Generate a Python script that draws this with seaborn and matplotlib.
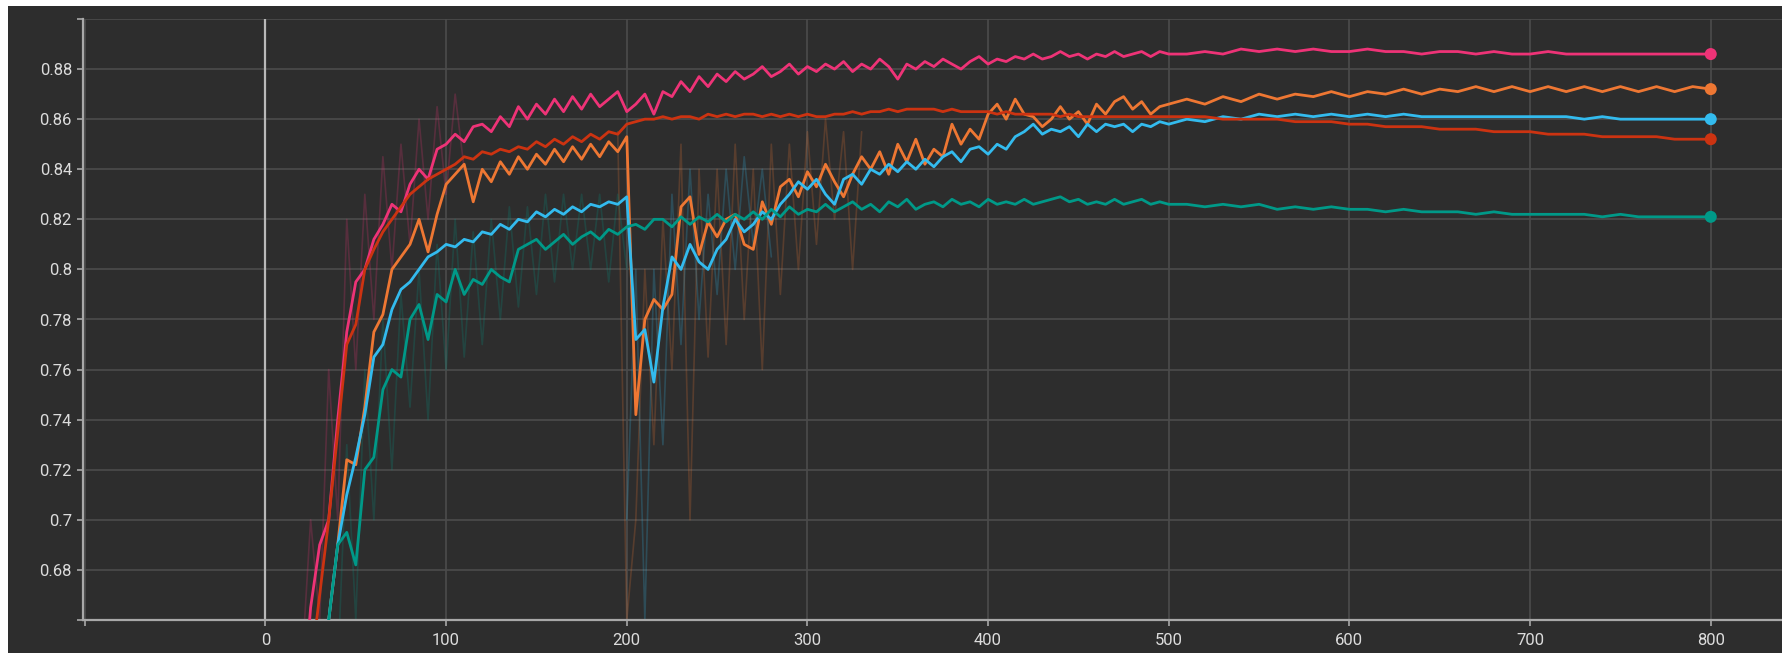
"""
Courbes d'entraînement façon TensorBoard (fond sombre, 5 runs)
"""

import numpy as np
import pandas as pd
import matplotlib
matplotlib.use("Agg")
import matplotlib.pyplot as plt
from matplotlib.patches import Rectangle
import seaborn as sns

# steps (abscisse commune à tous les runs lissés)
steps = list(range(20, 501, 5)) + list(range(510, 801, 10))

run_names = ["pink", "orange", "blue", "red", "teal"]
run_colors = ["#ee3377", "#ee7733", "#33bbee", "#cc3311", "#009988"]

pink = [
    0.620, 0.665, 0.690, 0.700, 0.740, 0.775, 0.795, 0.800, 0.812, 0.818,
    0.826, 0.823, 0.834, 0.840, 0.836, 0.848, 0.850, 0.854, 0.851, 0.857,
    0.858, 0.855, 0.861, 0.857, 0.865, 0.860, 0.866, 0.862, 0.868, 0.863,
    0.869, 0.864, 0.870, 0.865, 0.868, 0.871, 0.863, 0.866, 0.870, 0.862,
    0.871, 0.869, 0.875, 0.871, 0.877, 0.873, 0.878, 0.875, 0.879, 0.876,
    0.878, 0.881, 0.877, 0.879, 0.882, 0.878, 0.881, 0.879, 0.882, 0.880,
    0.883, 0.879, 0.882, 0.880, 0.884, 0.881, 0.876, 0.882, 0.880, 0.883,
    0.881, 0.884, 0.882, 0.880, 0.883, 0.885, 0.882, 0.884, 0.883, 0.885,
    0.884, 0.886, 0.884, 0.885, 0.887, 0.885, 0.886, 0.884, 0.886, 0.885,
    0.887, 0.885, 0.886, 0.887, 0.885, 0.887, 0.886,
    0.886, 0.887, 0.886, 0.888, 0.887, 0.888, 0.887, 0.888, 0.887, 0.887,
    0.888, 0.887, 0.887, 0.886, 0.887, 0.887, 0.886, 0.887, 0.886, 0.886,
    0.887, 0.886, 0.886, 0.886, 0.886, 0.886, 0.886, 0.886, 0.886, 0.886,
]

red = [
    0.600, 0.640, 0.670, 0.700, 0.735, 0.770, 0.778, 0.800, 0.808, 0.815,
    0.820, 0.825, 0.830, 0.833, 0.836, 0.838, 0.840, 0.842, 0.845, 0.844,
    0.847, 0.846, 0.848, 0.847, 0.849, 0.848, 0.851, 0.849, 0.852, 0.850,
    0.853, 0.851, 0.854, 0.852, 0.855, 0.854, 0.858, 0.859, 0.860, 0.860,
    0.861, 0.860, 0.861, 0.861, 0.860, 0.862, 0.861, 0.862, 0.861, 0.862,
    0.862, 0.861, 0.862, 0.861, 0.862, 0.861, 0.862, 0.861, 0.861, 0.862,
    0.862, 0.863, 0.862, 0.863, 0.863, 0.864, 0.863, 0.864, 0.864, 0.864,
    0.864, 0.863, 0.864, 0.863, 0.863, 0.863, 0.863, 0.862, 0.863, 0.862,
    0.862, 0.862, 0.862, 0.862, 0.861, 0.862, 0.861, 0.861, 0.861, 0.861,
    0.861, 0.861, 0.861, 0.861, 0.861, 0.861, 0.861,
    0.861, 0.861, 0.860, 0.860, 0.860, 0.860, 0.859, 0.859, 0.859, 0.858,
    0.858, 0.857, 0.857, 0.857, 0.856, 0.856, 0.856, 0.855, 0.855, 0.855,
    0.854, 0.854, 0.854, 0.853, 0.853, 0.853, 0.853, 0.852, 0.852, 0.852,
]

orange = [
    0.560, 0.590, 0.620, 0.660, 0.690, 0.724, 0.722, 0.745, 0.775, 0.782,
    0.800, 0.805, 0.810, 0.820, 0.807, 0.822, 0.834, 0.838, 0.842, 0.827,
    0.840, 0.835, 0.843, 0.838, 0.845, 0.840, 0.846, 0.842, 0.848, 0.843,
    0.849, 0.844, 0.850, 0.845, 0.851, 0.847, 0.853, 0.742, 0.780, 0.788,
    0.784, 0.790, 0.825, 0.829, 0.806, 0.819, 0.813, 0.820, 0.822, 0.810,
    0.808, 0.827, 0.818, 0.833, 0.836, 0.829, 0.839, 0.833, 0.842, 0.835,
    0.829, 0.838, 0.845, 0.840, 0.847, 0.838, 0.850, 0.843, 0.852, 0.842,
    0.848, 0.845, 0.858, 0.850, 0.856, 0.852, 0.862, 0.866, 0.860, 0.868,
    0.862, 0.861, 0.857, 0.860, 0.865, 0.860, 0.863, 0.858, 0.866, 0.862,
    0.867, 0.869, 0.864, 0.867, 0.862, 0.865, 0.866,
    0.868, 0.866, 0.869, 0.867, 0.870, 0.868, 0.870, 0.869, 0.871, 0.869,
    0.871, 0.870, 0.872, 0.870, 0.872, 0.871, 0.873, 0.871, 0.873, 0.871,
    0.873, 0.871, 0.873, 0.871, 0.873, 0.871, 0.873, 0.871, 0.873, 0.872,
]

blue = [
    0.550, 0.580, 0.620, 0.660, 0.690, 0.710, 0.725, 0.742, 0.765, 0.770,
    0.784, 0.792, 0.795, 0.800, 0.805, 0.807, 0.810, 0.809, 0.812, 0.811,
    0.815, 0.814, 0.818, 0.816, 0.820, 0.819, 0.823, 0.821, 0.824, 0.822,
    0.825, 0.823, 0.826, 0.825, 0.827, 0.826, 0.829, 0.772, 0.776, 0.755,
    0.785, 0.805, 0.800, 0.810, 0.803, 0.800, 0.808, 0.812, 0.820, 0.815,
    0.818, 0.823, 0.820, 0.826, 0.830, 0.835, 0.832, 0.836, 0.830, 0.826,
    0.836, 0.838, 0.834, 0.840, 0.838, 0.842, 0.839, 0.843, 0.840, 0.844,
    0.841, 0.845, 0.847, 0.843, 0.848, 0.849, 0.846, 0.850, 0.848, 0.853,
    0.855, 0.858, 0.854, 0.856, 0.855, 0.857, 0.853, 0.858, 0.855, 0.858,
    0.857, 0.858, 0.855, 0.858, 0.857, 0.859, 0.858,
    0.860, 0.859, 0.861, 0.860, 0.862, 0.861, 0.862, 0.861, 0.862, 0.861,
    0.862, 0.861, 0.862, 0.861, 0.861, 0.861, 0.861, 0.861, 0.861, 0.861,
    0.861, 0.861, 0.860, 0.861, 0.860, 0.860, 0.860, 0.860, 0.860, 0.860,
]

teal = [
    0.600, 0.620, 0.640, 0.660, 0.690, 0.695, 0.682, 0.720, 0.725, 0.752,
    0.760, 0.757, 0.780, 0.786, 0.772, 0.790, 0.787, 0.800, 0.790, 0.796,
    0.794, 0.800, 0.797, 0.795, 0.808, 0.810, 0.812, 0.808, 0.811, 0.814,
    0.810, 0.813, 0.815, 0.812, 0.816, 0.814, 0.817, 0.818, 0.816, 0.820,
    0.820, 0.817, 0.821, 0.818, 0.821, 0.819, 0.822, 0.819, 0.822, 0.820,
    0.823, 0.820, 0.824, 0.821, 0.825, 0.822, 0.824, 0.823, 0.826, 0.823,
    0.825, 0.827, 0.824, 0.826, 0.823, 0.827, 0.825, 0.828, 0.824, 0.826,
    0.827, 0.825, 0.828, 0.826, 0.827, 0.825, 0.828, 0.826, 0.827, 0.826,
    0.828, 0.826, 0.827, 0.828, 0.829, 0.827, 0.828, 0.826, 0.827, 0.826,
    0.828, 0.826, 0.827, 0.828, 0.826, 0.827, 0.826,
    0.826, 0.825, 0.826, 0.825, 0.826, 0.824, 0.825, 0.824, 0.825, 0.824,
    0.824, 0.823, 0.824, 0.823, 0.823, 0.823, 0.822, 0.823, 0.822, 0.822,
    0.822, 0.822, 0.822, 0.821, 0.822, 0.821, 0.821, 0.821, 0.821, 0.821,
]

# valeurs brutes (non lissées), visibles en transparence
pink_raw_steps = list(range(20, 111, 5))
pink_raw = [0.64, 0.70, 0.66, 0.76, 0.70, 0.82, 0.76, 0.83, 0.78, 0.845,
            0.80, 0.85, 0.81, 0.86, 0.82, 0.865, 0.83, 0.87, 0.84]

orange_raw_steps = list(range(195, 331, 5))
orange_raw = [0.855, 0.66, 0.70, 0.80, 0.73, 0.82, 0.76, 0.85, 0.70, 0.84,
              0.765, 0.84, 0.77, 0.85, 0.78, 0.84, 0.76, 0.85, 0.79, 0.85,
              0.80, 0.855, 0.81, 0.86, 0.82, 0.855, 0.80, 0.855]

blue_raw_steps = list(range(200, 281, 5))
blue_raw = [0.70, 0.80, 0.66, 0.80, 0.73, 0.83, 0.77, 0.84, 0.78, 0.83,
            0.79, 0.84, 0.80, 0.845, 0.81, 0.84, 0.805]

teal_raw_steps = list(range(40, 201, 5))
teal_raw = [0.64, 0.73, 0.66, 0.76, 0.70, 0.78, 0.72, 0.79, 0.745, 0.80,
            0.74, 0.81, 0.76, 0.82, 0.765, 0.815, 0.77, 0.82, 0.78, 0.825,
            0.785, 0.825, 0.79, 0.83, 0.795, 0.83, 0.80, 0.83, 0.80, 0.83,
            0.795, 0.83, 0.80]

y_ticks = [0.66, 0.68, 0.70, 0.72, 0.74, 0.76, 0.78, 0.80, 0.82, 0.84, 0.86, 0.88, 0.90]
x_ticks = [-100, 0, 100, 200, 300, 400, 500, 600, 700, 800]

# Style
BG = "#2d2d2d"
GRID = "#4c4c4c"
AXIS = "#a8a8a8"
TXT = "#dcdcdc"

sns.set_theme(style="dark")
plt.rcParams["font.family"] = ["Roboto", "DejaVu Sans"]

# Données au format long
frames = []
for name, vals in zip(run_names, [pink, orange, blue, red, teal]):
    frames.append(pd.DataFrame({"step": steps, "value": vals, "run": name}))
df = pd.concat(frames, ignore_index=True)
last = df[df["step"] == steps[-1]]

raw_frames = []
for name, st, vals in [("pink", pink_raw_steps, pink_raw),
                       ("orange", orange_raw_steps, orange_raw),
                       ("blue", blue_raw_steps, blue_raw),
                       ("teal", teal_raw_steps, teal_raw)]:
    raw_frames.append(pd.DataFrame({"step": st, "value": vals, "run": name}))
df_raw = pd.concat(raw_frames, ignore_index=True)

W, H = 1783, 653
fig = plt.figure(figsize=(W / 100, H / 100), dpi=100)
fig.patch.set_facecolor("white")
fig.patches.append(Rectangle((8 / W, 0), 1, (H - 6) / H, transform=fig.transFigure,
                             facecolor=BG, edgecolor="none", zorder=-10))

ax = fig.add_axes([83 / W, (H - 620) / H, (W - 83) / W, (620 - 19) / H])
ax.set_facecolor(BG)

palette = dict(zip(run_names, run_colors))
sns.lineplot(data=df_raw, x="step", y="value", hue="run", palette=palette,
             linewidth=1.2, alpha=0.22, legend=False, ax=ax, zorder=2)
sns.lineplot(data=df, x="step", y="value", hue="run", palette=palette,
             linewidth=2.0, legend=False, ax=ax, zorder=3)
sns.scatterplot(data=last, x="step", y="value", hue="run", palette=palette,
                s=75, edgecolor="none", legend=False, ax=ax, zorder=4)

ax.set_xlim(-101, 840)
ax.set_ylim(0.66, 0.90)
ax.set_xticks(x_ticks)
ax.set_xticklabels(["" if t < 0 else str(t) for t in x_ticks])
ax.set_yticks(y_ticks)
ax.set_yticklabels(["" if t in (0.66, 0.90) else f"{t:g}" for t in y_ticks])
ax.set_xlabel("")
ax.set_ylabel("")

ax.grid(True, color=GRID, linewidth=1.2)
ax.axvline(0, color="#b8b8b8", linewidth=1.6, zorder=2)

for side in ["top", "right"]:
    ax.spines[side].set_visible(False)
for side in ["left", "bottom"]:
    ax.spines[side].set_visible(True)
    ax.spines[side].set_color(AXIS)
    ax.spines[side].set_linewidth(1.6)

ax.tick_params(axis="both", colors=AXIS, labelcolor=TXT, labelsize=12,
               length=4.5, width=1.2)
ax.tick_params(axis="x", pad=5, bottom=True)
ax.tick_params(axis="y", pad=3.5, left=True)

plt.savefig("out.png", dpi=100, facecolor=fig.get_facecolor())
plt.close()
